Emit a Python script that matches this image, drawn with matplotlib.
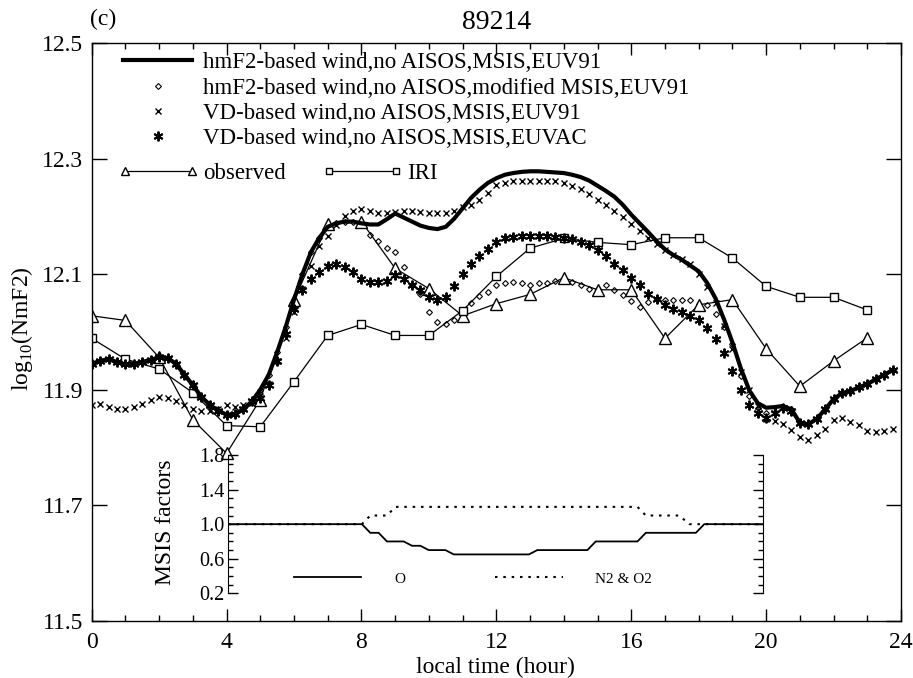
import matplotlib.pyplot as plt
import numpy as np
from matplotlib.lines import Line2D
from matplotlib.ticker import MultipleLocator, FormatStrFormatter

plt.rcParams['font.family'] = ['Liberation Serif', 'DejaVu Serif']
plt.rcParams['mathtext.fontset'] = 'custom'
plt.rcParams['mathtext.rm'] = 'Liberation Serif'

# hourly observations and IRI
hours = list(range(24))
observed = [12.028, 12.020, 11.956, 11.848, 11.790, 11.883, 12.055, 12.186, 12.191, 12.110,
            12.075, 12.028, 12.049, 12.065, 12.094, 12.073, 12.073, 11.989, 12.047, 12.056,
            11.971, 11.906, 11.950, 11.990]
iri = [11.989, 11.953, 11.936, 11.895, 11.838, 11.836, 11.914, 11.994, 12.013, 11.994,
       11.994, 12.037, 12.096, 12.145, 12.162, 12.155, 12.151, 12.163, 12.163, 12.128,
       12.079, 12.060, 12.060, 12.038]

# model runs, every 15 minutes
qhours = np.arange(0, 24, 0.25)
hmf2_msis = [11.945, 11.950, 11.953, 11.948, 11.944, 11.945, 11.948, 11.952, 11.956, 11.955, 11.945, 11.926,
             11.908, 11.888, 11.874, 11.864, 11.857, 11.858, 11.866, 11.880, 11.900, 11.926, 11.965, 12.008,
             12.056, 12.100, 12.138, 12.163, 12.182, 12.188, 12.191, 12.191, 12.188, 12.186, 12.186, 12.195,
             12.205, 12.198, 12.191, 12.184, 12.180, 12.178, 12.182, 12.196, 12.214, 12.232, 12.246, 12.258,
             12.266, 12.272, 12.275, 12.277, 12.278, 12.278, 12.277, 12.276, 12.275, 12.272, 12.268, 12.262,
             12.253, 12.244, 12.234, 12.220, 12.203, 12.188, 12.173, 12.157, 12.143, 12.133, 12.125, 12.115,
             12.105, 12.085, 12.058, 12.022, 11.982, 11.937, 11.899, 11.877, 11.869, 11.870, 11.872, 11.866,
             11.843, 11.840, 11.850, 11.866, 11.884, 11.894, 11.898, 11.904, 11.910, 11.918, 11.926, 11.934]
hmf2_mod_msis = [11.945, 11.950, 11.953, 11.948, 11.944, 11.945, 11.948, 11.952, 11.956, 11.955, 11.945, 11.926,
                 11.908, 11.888, 11.874, 11.864, 11.857, 11.858, 11.866, 11.880, 11.900, 11.926, 11.965, 12.008,
                 12.056, 12.100, 12.138, 12.163, 12.182, 12.188, 12.191, 12.191, 12.188, 12.167, 12.158, 12.146,
                 12.138, 12.112, 12.081, 12.066, 12.034, 12.018, 12.014, 12.021, 12.032, 12.050, 12.062, 12.070,
                 12.081, 12.085, 12.086, 12.084, 12.081, 12.084, 12.085, 12.088, 12.090, 12.087, 12.082, 12.075,
                 12.075, 12.081, 12.073, 12.064, 12.053, 12.043, 12.052, 12.057, 12.055, 12.055, 12.055, 12.055,
                 12.049, 12.046, 12.031, 12.008, 11.979, 11.924, 11.889, 11.868, 11.860, 11.862, 11.870, 11.866,
                 11.843, 11.840, 11.850, 11.866, 11.884, 11.894, 11.898, 11.904, 11.910, 11.918, 11.926, 11.934]
vd_euv91 = [11.874, 11.875, 11.871, 11.867, 11.866, 11.871, 11.875, 11.883, 11.887, 11.885, 11.880, 11.874,
            11.866, 11.863, 11.864, 11.867, 11.873, 11.871, 11.874, 11.877, 11.890, 11.910, 11.949, 11.990,
            12.035, 12.075, 12.115, 12.148, 12.166, 12.185, 12.200, 12.210, 12.213, 12.209, 12.206, 12.205,
            12.207, 12.209, 12.209, 12.207, 12.205, 12.205, 12.206, 12.210, 12.216, 12.220, 12.229, 12.241,
            12.254, 12.258, 12.261, 12.261, 12.261, 12.261, 12.261, 12.262, 12.258, 12.253, 12.248, 12.239,
            12.229, 12.219, 12.210, 12.199, 12.187, 12.174, 12.162, 12.152, 12.142, 12.134, 12.127, 12.118,
            12.100, 12.078, 12.050, 12.010, 11.970, 11.930, 11.900, 11.872, 11.850, 11.846, 11.840, 11.830,
            11.818, 11.813, 11.822, 11.832, 11.848, 11.851, 11.845, 11.839, 11.829, 11.827, 11.828, 11.833]
vd_euvac = [11.945, 11.950, 11.953, 11.948, 11.944, 11.945, 11.948, 11.952, 11.956, 11.955, 11.945, 11.926,
            11.908, 11.888, 11.874, 11.864, 11.857, 11.858, 11.866, 11.880, 11.885, 11.909, 11.950, 11.996,
            12.040, 12.072, 12.091, 12.104, 12.114, 12.117, 12.113, 12.104, 12.091, 12.087, 12.087, 12.088,
            12.098, 12.092, 12.082, 12.072, 12.060, 12.056, 12.060, 12.079, 12.100, 12.117, 12.131, 12.144,
            12.155, 12.162, 12.165, 12.166, 12.166, 12.166, 12.166, 12.165, 12.163, 12.161, 12.156, 12.151,
            12.142, 12.131, 12.118, 12.107, 12.094, 12.081, 12.066, 12.057, 12.046, 12.040, 12.034, 12.028,
            12.021, 12.007, 11.988, 11.964, 11.932, 11.900, 11.874, 11.860, 11.851, 11.860, 11.868, 11.864,
            11.843, 11.840, 11.850, 11.866, 11.884, 11.894, 11.898, 11.904, 11.910, 11.918, 11.926, 11.934]

# MSIS factors (inset)
o_hours = [4, 8, 8.25, 8.5, 8.75, 9.25, 9.5, 9.75, 10, 10.5, 10.75, 13, 13.25, 14.75, 15, 16.25, 16.5, 18, 18.25, 20]
o_factor = [1.0, 1.0, 0.9, 0.9, 0.8, 0.8, 0.75, 0.75, 0.7, 0.7, 0.65, 0.65, 0.7, 0.7, 0.8, 0.8, 0.9, 0.9, 1.0, 1.0]
n_hours = [4, 8, 8.25, 8.75, 9, 16.25, 16.5, 17.5, 17.8, 20]
n_factor = [1.0, 1.0, 1.1, 1.1, 1.2, 1.2, 1.1, 1.1, 1.0, 1.0]

fs = 16.5
fig = plt.figure(figsize=(9.13, 6.78), dpi=100)
ax = fig.add_axes([0.1004, 0.0841, 0.8865, 0.8525])

h_thick, = ax.plot(qhours, hmf2_msis, color='k', lw=3.0, zorder=3,
                   label='hmF2-based wind,no AISOS,MSIS,EUV91')
h_dia, = ax.plot(qhours, hmf2_mod_msis, ls='none', marker='D', ms=3, mfc='white', mec='k', mew=0.8,
                 label='hmF2-based wind,no AISOS,modified MSIS,EUV91')
h_x, = ax.plot(qhours, vd_euv91, ls='none', marker='x', ms=4.5, mew=1.0, color='k',
               label='VD-based wind,no AISOS,MSIS,EUV91')
h_ast, = ax.plot(qhours, vd_euvac, ls='none', marker=(6, 2, 0), ms=7, mew=1.4, color='k', zorder=4,
                 label='VD-based wind,no AISOS,MSIS,EUVAC')
h_obs, = ax.plot(hours, observed, color='k', lw=0.9, marker='^', ms=8, mfc='white', mec='k', mew=1.0,
                 label='observed')
h_iri, = ax.plot(hours, iri, color='k', lw=0.9, marker='s', ms=6, mfc='white', mec='k', mew=1.0,
                 label='IRI')

ax.set_xlim(0, 24)
ax.set_ylim(11.5, 12.5)
ax.xaxis.set_major_locator(MultipleLocator(4))
ax.xaxis.set_minor_locator(MultipleLocator(1))
ax.set_yticks([11.5, 11.7, 11.9, 12.1, 12.3, 12.5])
ax.yaxis.set_major_formatter(FormatStrFormatter('%.1f'))
ax.tick_params(which='both', direction='in', top=True, right=True, labelsize=17, width=1)
ax.tick_params(axis='y', which='major', length=11, pad=6)
ax.tick_params(axis='x', which='major', length=8.5, pad=8)
ax.tick_params(which='minor', length=4.3)
for s in ax.spines.values():
    s.set_linewidth(1.0)

leg1 = ax.legend(handles=[h_thick, h_dia, h_x, h_ast], loc='upper left', bbox_to_anchor=(0.039, 0.984),
                 frameon=False, fontsize=fs, handlelength=3.0, handletextpad=0.5, labelspacing=0.19,
                 borderpad=0, borderaxespad=0, numpoints=1)
ax.add_artist(leg1)
ax.legend(handles=[h_obs, h_iri], loc='upper left', bbox_to_anchor=(0.033, 0.792), ncol=2,
          frameon=False, fontsize=fs, handlelength=3.5, handletextpad=0.2, columnspacing=1.6,
          borderpad=0, borderaxespad=0, numpoints=2, markerscale=0.7)

fig.text(0.113, 0.971, '(c)', fontsize=17, ha='center', va='center')
fig.text(0.544, 0.967, '89214', fontsize=20, ha='center', va='center')
fig.text(0.543, 0.016, 'local time (hour)', fontsize=17, ha='center', va='center')
fig.text(0.0238, 0.515, r'log$_{\mathrm{10}}$(NmF2)', fontsize=17, ha='center', va='center', rotation=90)

# inset with MSIS factors
axi = fig.add_axes([0.2501, 0.1249, 0.5853, 0.204])
axi.patch.set_alpha(0)
axi.plot(o_hours, o_factor, color='k', lw=1.3)
axi.plot(n_hours, n_factor, color='k', lw=1.5, ls=(0, (1.2, 2.8)))
axi.set_xlim(4, 20)
axi.set_ylim(0.2, 1.8)
axi.spines['top'].set_visible(False)
axi.spines['bottom'].set_visible(False)
axi.set_xticks([])
axi.set_yticks([0.2, 0.6, 1.0, 1.4, 1.8])
axi.yaxis.set_major_formatter(FormatStrFormatter('%.1f'))
axi.yaxis.set_minor_locator(MultipleLocator(0.1))
axi.tick_params(axis='y', which='both', direction='in', left=True, right=True, labelsize=14.5, width=1)
axi.tick_params(axis='y', which='major', length=7, pad=3)
axi.tick_params(axis='y', which='minor', length=3.5)
fig.text(0.181, 0.23, 'MSIS factors', fontsize=17, ha='center', va='center', rotation=90)

ih = [Line2D([], [], color='k', lw=1.3), Line2D([], [], color='k', lw=1.5, ls=(0, (1.2, 2.8)))]
axi.legend(ih, ['O', 'N2 & O2'], loc='center left', bbox_to_anchor=(0.123, 0.105), ncol=2,
           frameon=False, fontsize=11, handlelength=4.4, handletextpad=2.15, columnspacing=5.9,
           borderpad=0, borderaxespad=0)

fig.savefig('out.png', dpi=100)
